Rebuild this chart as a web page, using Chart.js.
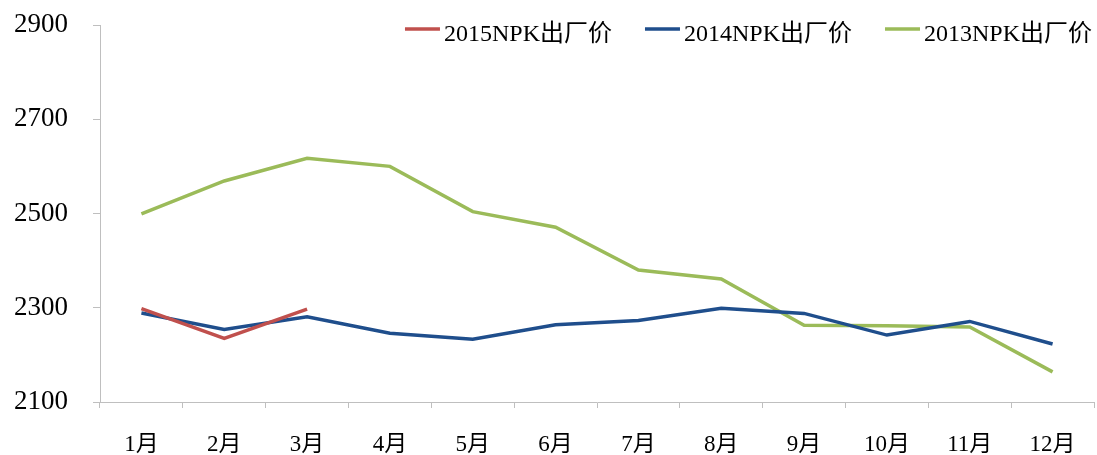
<!DOCTYPE html>
<html>
<head>
<meta charset="utf-8">
<script src="https://cdn.jsdelivr.net/npm/chart.js@4/dist/chart.umd.min.js"></script>
<style>
html,body{margin:0;padding:0;background:#fff;}
#wrap{width:1097px;height:455px;position:relative;}
</style>
</head>
<body>
<div id="wrap"><canvas id="c"></canvas></div>
<script>
const categories = ['1月','2月','3月','4月','5月','6月','7月','8月','9月','10月','11月','12月'];
const series2015 = [2298, 2235, 2297, null, null, null, null, null, null, null, null, null];
const series2014 = [2289, 2254, 2281, 2246, 2233, 2264, 2273, 2299, 2288, 2242, 2271, 2223];
const series2013 = [2499, 2569, 2617, 2600, 2504, 2471, 2380, 2361, 2263, 2262, 2259, 2164];
const seriesNames = ['2015NPK出厂价', '2014NPK出厂价', '2013NPK出厂价'];
const yTicks = [2100, 2300, 2500, 2700, 2900];

const FONT = "'Liberation Serif', 'Noto Sans CJK SC', serif";
const AXIS_COLOR = '#bfbfbf';

// Legend drawn inside the plot area, top-right, Excel style
const topLegend = {
  id: 'topLegend',
  afterDraw(chart) {
    const ctx = chart.ctx;
    const fontSize = 24;
    ctx.save();
    ctx.font = fontSize + "px " + FONT;
    ctx.textBaseline = 'middle';
    ctx.textAlign = 'left';
    const lineLen = 35, gapText = 4, gapItem = 33;
    const items = chart.data.datasets.map(d => ({label: d.label, color: d.borderColor, w: ctx.measureText(d.label).width}));
    let total = 0;
    items.forEach((it, i) => { total += lineLen + gapText + it.w + (i < items.length - 1 ? gapItem : 0); });
    let x = 1092 - total;
    const yText = 35, yLine = 29;
    items.forEach(it => {
      ctx.strokeStyle = it.color;
      ctx.lineWidth = 3.5;
      ctx.beginPath();
      ctx.moveTo(x, yLine);
      ctx.lineTo(x + lineLen, yLine);
      ctx.stroke();
      ctx.fillStyle = '#000';
      ctx.fillText(it.label, x + lineLen + gapText, yText);
      x += lineLen + gapText + it.w + gapItem;
    });
    ctx.restore();
  }
};

new Chart(document.getElementById('c'), {
  type: 'line',
  data: {
    labels: categories,
    datasets: [
      {label: seriesNames[0], data: series2015, borderColor: '#c0504d', backgroundColor: '#c0504d', borderWidth: 3.5, pointRadius: 0, tension: 0},
      {label: seriesNames[1], data: series2014, borderColor: '#1f4e8c', backgroundColor: '#1f4e8c', borderWidth: 3.5, pointRadius: 0, tension: 0},
      {label: seriesNames[2], data: series2013, borderColor: '#9bbb59', backgroundColor: '#9bbb59', borderWidth: 3.5, pointRadius: 0, tension: 0}
    ]
  },
  plugins: [topLegend],
  options: {
    responsive: true,
    maintainAspectRatio: false,
    animation: false,
    layout: {padding: {top: 25, right: 3, left: 0, bottom: 0}},
    plugins: {
      tooltip: {enabled: false},
      legend: {display: false}
    },
    scales: {
      x: {
        offset: true,
        grid: {display: true, drawOnChartArea: false, drawTicks: true, tickLength: 6, color: AXIS_COLOR, offset: true},
        border: {display: true, color: AXIS_COLOR, width: 1},
        ticks: {font: {family: FONT, size: 23}, color: '#000', padding: 23, maxRotation: 0, autoSkip: false},
        afterFit: (s) => { s.height = 53; s.paddingLeft = 0; s.paddingRight = 0; }
      },
      y: {
        min: 2100,
        max: 2900,
        afterBuildTicks: (s) => { s.ticks = yTicks.map(v => ({value: v})); },
        grid: {display: true, drawOnChartArea: false, drawTicks: true, tickLength: 7, color: AXIS_COLOR},
        border: {display: true, color: AXIS_COLOR, width: 1},
        ticks: {font: {family: FONT, size: 27}, color: '#000', padding: 25, callback: (v) => String(v)},
        afterFit: (s) => { s.width = 100; s.paddingTop = 0; s.paddingBottom = 0; }
      }
    }
  }
});
</script>
</body>
</html>
